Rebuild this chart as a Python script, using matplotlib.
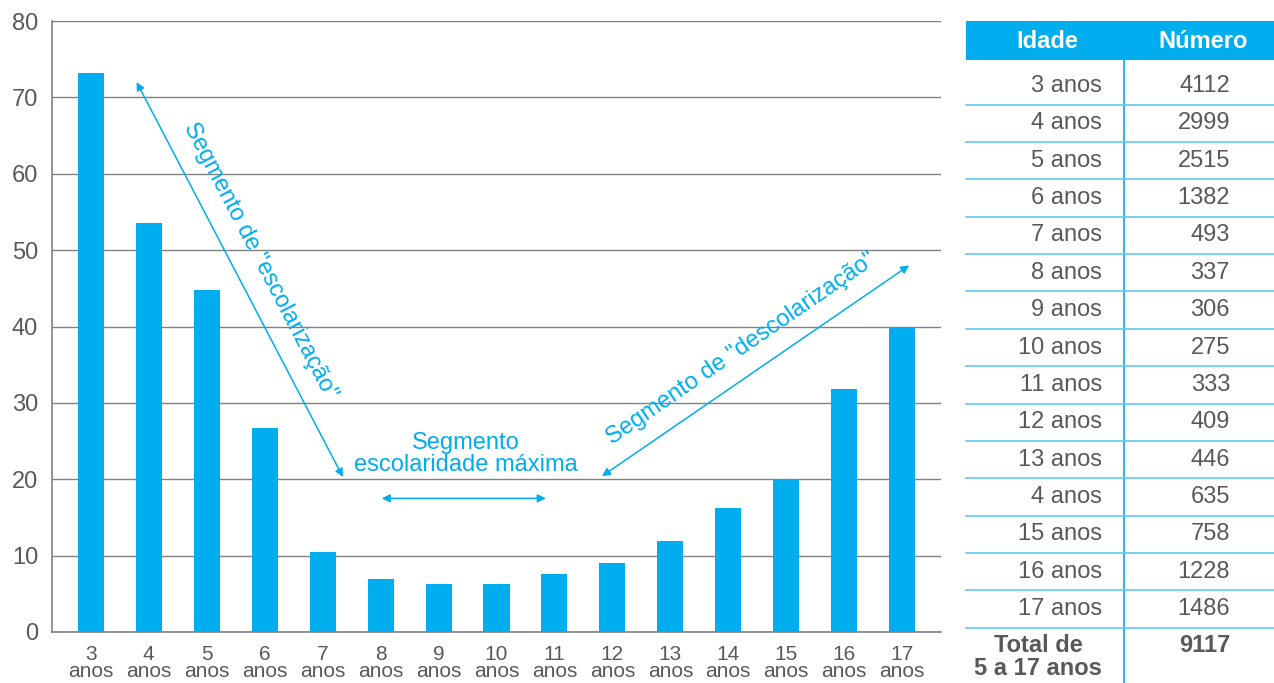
import numpy as np
import matplotlib.pyplot as plt
from matplotlib.patches import Rectangle

ages = [3, 4, 5, 6, 7, 8, 9, 10, 11, 12, 13, 14, 15, 16, 17]
pct = [73.2, 53.5, 44.8, 26.7, 10.5, 6.9, 6.3, 6.3, 7.6, 9.0, 11.9, 16.2, 20.0, 31.8, 39.8]
tab_age = ["3 anos", "4 anos", "5 anos", "6 anos", "7 anos", "8 anos", "9 anos",
           "10 anos", "11 anos", "12 anos", "13 anos", "4 anos", "15 anos",
           "16 anos", "17 anos"]
tab_num = [4112, 2999, 2515, 1382, 493, 337, 306, 275, 333, 409, 446, 635, 758, 1228, 1486]
total_label = "Total de\n5 a 17 anos"
total_num = 9117

BLUE = "#00ADEF"
GREY = "#595959"
plt.rcParams['font.family'] = ['Liberation Sans', 'DejaVu Sans']

W, H = 1274, 683
fig = plt.figure(figsize=(W / 100, H / 100), dpi=100)

# table drawn on a pixel-space background axes
tax = fig.add_axes([0, 0, 1, 1])
tax.set_xlim(0, W)
tax.set_ylim(H, 0)
tax.axis('off')

tax.add_patch(Rectangle((966, 21), W - 966, 39, color=BLUE, lw=0))
tax.text(1047, 42, "Idade", color="white", fontsize=17, fontweight='bold', ha='center', va='center')
tax.text(1203, 42, "Número", color="white", fontsize=17, fontweight='bold', ha='center', va='center')
tax.plot([1124, 1124], [60, H], color=BLUE, lw=1.2)

step = 37.36
for i, (a, n) in enumerate(zip(tab_age, tab_num)):
    yc = 86 + i * step
    tax.text(1102, yc, a, color=GREY, fontsize=17, ha='right', va='center')
    tax.text(1230, yc, str(n), color=GREY, fontsize=17, ha='right', va='center')
    tax.plot([966, W], [yc + step / 2, yc + step / 2], color="#5CC9F3", lw=1.2)
tax.text(1102, 657, total_label, color=GREY, fontsize=17, fontweight='bold',
         ha='right', va='center', multialignment='center', linespacing=1.0)
tax.text(1230, 646, str(total_num), color=GREY, fontsize=17, fontweight='bold',
         ha='right', va='center')

# bar chart
ax = fig.add_axes([52 / W, 1 - 632 / H, (941 - 52) / W, (632 - 21) / H])
x = np.arange(len(ages))
ax.bar(x, pct, width=0.45, color=BLUE, zorder=3)
ax.set_xlim(-0.67, len(ages) - 0.33)
ax.set_ylim(0, 80)
ax.set_yticks(range(0, 81, 10))
ax.set_xticks(x)
ax.set_xticklabels([f"{a}\nanos" for a in ages], linespacing=0.9)
ax.tick_params(axis='y', length=0, labelsize=17, colors=GREY, pad=10)
ax.tick_params(axis='x', length=0, labelsize=15, colors=GREY, pad=9)
ax.yaxis.grid(True, color="#808080", lw=1)
ax.set_axisbelow(True)
for s in ['top', 'right']:
    ax.spines[s].set_visible(False)
for s in ['left', 'bottom']:
    ax.spines[s].set_color("#808080")
    ax.spines[s].set_linewidth(1.2)
ax.spines['bottom'].set_zorder(4)

arrow = dict(arrowstyle='<|-|>', color=BLUE, lw=1.1, mutation_scale=12, shrinkA=0, shrinkB=0)
ax.annotate("", xy=(0.79, 72.0), xytext=(4.35, 20.3), arrowprops=arrow)
ax.annotate("", xy=(8.82, 20.4), xytext=(14.12, 48.0), arrowprops=arrow)
ax.annotate("", xy=(5.02, 17.5), xytext=(7.85, 17.5), arrowprops=arrow)

ax.text(2.92, 48.6, 'Segmento de "escolarização"', color=BLUE, fontsize=17,
        rotation=-62.5, rotation_mode='anchor', ha='center', va='center')
ax.text(11.22, 37.1, 'Segmento de "descolarização"', color=BLUE, fontsize=17,
        rotation=34.5, rotation_mode='anchor', ha='center', va='center')
ax.text(6.47, 23.3, "Segmento\nescolaridade máxima", color=BLUE, fontsize=17,
        ha='center', va='center', linespacing=1.05)

fig.savefig("out.png", dpi=100)
